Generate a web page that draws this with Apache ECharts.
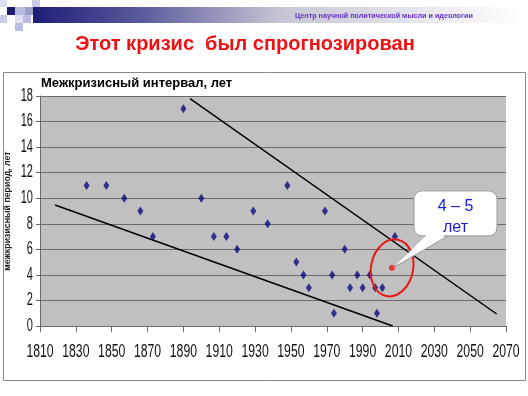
<!DOCTYPE html>
<html><head><meta charset="utf-8">
<script src="https://cdn.jsdelivr.net/npm/echarts@6/dist/echarts.min.js"></script>
<style>html,body{margin:0;padding:0;background:#fff}#c{width:528px;height:396px}</style>
</head><body><div id="c"></div>
<script>
// ---- data ----
const years = [1836,1847,1857,1866,1873,1890,1900,1907,1914,1920,1929,1937,1948,1953,1957,1960,1969,1973,1974,1980,1983,1987,1990,1994,1997,1998,2001,2008];
const intervals = [11,11,10,9,7,17,10,7,7,6,9,8,11,5,4,3,9,4,1,6,3,4,3,4,3,1,3,7];
const upperTrend = [[1893.7,17.8],[2064.8,0.94]];
const lowerTrend = [[1818.4,9.47],[2006.8,0]];
const forecastPoint = [2006.4,4.55];
const forecastRange = [1994.7,2018.2,2.3,6.8]; // year from, year to, value from, value to
const calloutLines = ['4 – 5','лет'];
const xTickLabels = [1810,1830,1850,1870,1890,1910,1930,1950,1970,1990,2010,2030,2050,2070];
const yTickLabels = [0,2,4,6,8,10,12,14,16,18];
const chartTitle = 'Межкризисный интервал, лет';
const yName = 'межкризисный период, лет';
const slideTitle = 'Этот кризис  был спрогнозирован';
const headerText = 'Центр научной политической мысли и идеологии';

const xMin = xTickLabels[0], xMax = xTickLabels[xTickLabels.length-1], xStep = xTickLabels[1]-xTickLabels[0];
const yMin = yTickLabels[0], yMax = yTickLabels[yTickLabels.length-1], yStep = yTickLabels[1]-yTickLabels[0];
const sans = 'Liberation Sans, Arial, sans-serif';
const chart = echarts.init(document.getElementById('c'));
chart.setOption({
  animation:false,
  grid:{left:40,right:22,top:96,bottom:70,show:true,backgroundColor:'#c0c0c0',borderWidth:0,outerBoundsMode:'none',containLabel:false},
  xAxis:{type:'value',min:xMin,max:xMax,interval:xStep,
    axisLine:{show:true,onZero:false,lineStyle:{color:'#6a6a6a',width:1}},
    axisTick:{show:true,length:6,lineStyle:{color:'#6a6a6a'}},
    splitLine:{show:false},
    axisLabel:{show:false}},
  yAxis:{type:'value',min:yMin,max:yMax,interval:yStep,
    name:yName,nameLocation:'middle',nameRotate:90,nameGap:28,
    nameTextStyle:{fontSize:8.8,fontWeight:'bold',color:'#222',fontFamily:sans},
    axisLine:{show:true,lineStyle:{color:'#6a6a6a',width:1}},
    axisTick:{show:true,length:4,lineStyle:{color:'#6a6a6a'}},
    splitLine:{show:true,lineStyle:{color:'#6a6a6a',width:1}},
    axisLabel:{show:false}},
  series:[
    {type:'scatter',data:years.map((y,i)=>[y,intervals[i]]),symbol:'diamond',symbolSize:[6,9],
      itemStyle:{color:'#0a0a80'},z:5},
    {type:'line',data:upperTrend,symbol:'none',lineStyle:{color:'#000',width:1.5},z:4},
    {type:'line',data:lowerTrend,symbol:'none',lineStyle:{color:'#000',width:1.5},z:4},
    {type:'scatter',data:[forecastPoint],symbol:'circle',symbolSize:6,itemStyle:{color:'#ee1111'},z:6}
  ]
});

const px = v => chart.convertToPixel({gridIndex:0}, v);
const p = px(forecastPoint);
const a = px([forecastRange[0],forecastRange[2]]);
const b = px([forecastRange[1],forecastRange[3]]);
const ecx=(a[0]+b[0])/2, ecy=(a[1]+b[1])/2, erx=Math.abs(b[0]-a[0])/2, ery=Math.abs(b[1]-a[1])/2;
const bx=p[0]+22, by=p[1]-77, bw=83, bh=45;

const tickTexts = [];
xTickLabels.forEach(v=>{
  const q = px([v, yMin]);
  tickTexts.push({type:'text',x:q[0],y:q[1]+26,scaleX:0.68,z:3,
    style:{text:String(v),font:'18px '+sans,fill:'#111',align:'center',verticalAlign:'middle'}});
});
yTickLabels.forEach(v=>{
  const q = px([xMin, v]);
  tickTexts.push({type:'text',x:q[0]-7,y:q[1],scaleX:0.63,z:3,
    style:{text:String(v),font:'17.5px '+sans,fill:'#111',align:'right',verticalAlign:'middle'}});
});

chart.setOption({graphic:[
  // header decoration
  {type:'rect',shape:{x:33,y:7,width:490,height:16},z:0,style:{fill:new echarts.graphic.LinearGradient(0,0,1,0,[{offset:0,color:'#1e1e78'},{offset:0.22,color:'#5a5a9c'},{offset:0.5,color:'#c4c4d4'},{offset:1,color:'#ffffff'}])}},
  {type:'rect',shape:{x:0,y:0,width:7,height:7},style:{fill:'#dde0f0'}},
  {type:'rect',shape:{x:32,y:0,width:8,height:7},style:{fill:'#c8cce6'}},
  {type:'rect',shape:{x:7,y:7,width:8,height:8},style:{fill:'#1c1c70'}},
  {type:'rect',shape:{x:15,y:7,width:10,height:8},style:{fill:'#b8bce0'}},
  {type:'rect',shape:{x:25,y:7,width:8,height:8},style:{fill:'#9a9ec8'}},
  {type:'rect',shape:{x:0,y:15,width:7,height:8},style:{fill:'#c8cce6'}},
  {type:'rect',shape:{x:15,y:15,width:8,height:8},style:{fill:'#dde0f0'}},
  {type:'rect',shape:{x:23,y:15,width:8,height:8},style:{fill:'#b8bce0'}},
  {type:'rect',shape:{x:15,y:23,width:8,height:8},style:{fill:'#b8bce0'}},
  {type:'text',left:295,top:13,z:2,style:{text:headerText,font:'bold 7.2px '+sans,fill:'#6633cc'}},
  {type:'text',x:245,y:44,z:2,style:{text:slideTitle,font:'bold 20px '+sans,fill:'#ee1111',align:'center',verticalAlign:'middle'}},
  // chart frame
  {type:'rect',shape:{x:3.5,y:72.5,width:522,height:308},z:-1,silent:true,style:{fill:'#fff',stroke:'#8a8a8a',lineWidth:1}},
  {type:'text',x:41,y:83,z:2,style:{text:chartTitle,font:'bold 13px '+sans,fill:'#000',verticalAlign:'middle'}},
  ...tickTexts,
  // ellipse
  {type:'ellipse',x:ecx,y:ecy,rotation:-0.2,shape:{cx:0,cy:0,rx:erx,ry:ery},z:20,style:{fill:null,stroke:'#e81818',lineWidth:2}},
  // callout
  {type:'polygon',z:21,shape:{points:[[bx+13,by+bh],[bx+34,by+bh],[p[0]+1,p[1]]]},style:{fill:'#fff',stroke:'#9a9a9a',lineWidth:1}},
  {type:'rect',z:22,shape:{x:bx,y:by,width:bw,height:bh,r:8},style:{fill:'#fff',stroke:'#9a9a9a',lineWidth:1}},
  {type:'polygon',z:23,shape:{points:[[bx+14,by+bh-2],[bx+33,by+bh-2],[p[0]+3,p[1]-2]]},style:{fill:'#fff'}},
  {type:'text',z:24,x:bx+bw/2,y:by+16,style:{text:calloutLines[0],font:'16px '+sans,fill:'#1a1ad8',align:'center',verticalAlign:'middle'}},
  {type:'text',z:24,x:bx+bw/2,y:by+37,style:{text:calloutLines[1],font:'16px '+sans,fill:'#1a1ad8',align:'center',verticalAlign:'middle'}}
]});
</script></body></html>
